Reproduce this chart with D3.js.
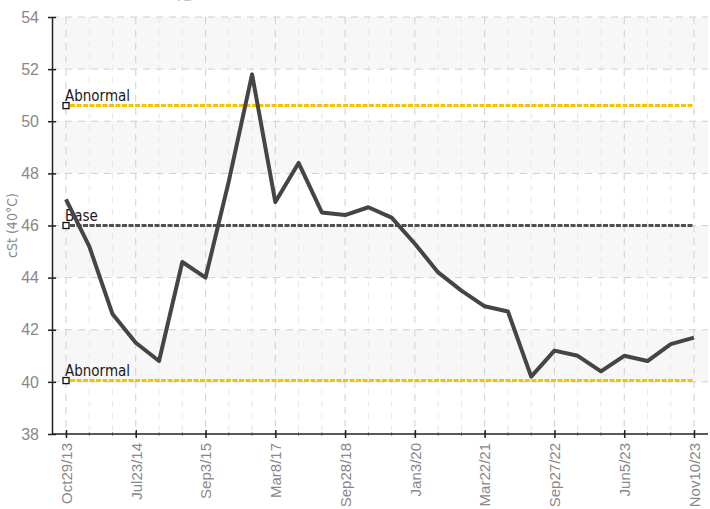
<!DOCTYPE html>
<html>
<head>
<meta charset="utf-8">
<script src="https://cdn.jsdelivr.net/npm/d3@7"></script>
<style>
  body { margin: 0; background: #fff; }
  svg { display: block; font-family: "DejaVu Sans Condensed", "Roboto", sans-serif; }
  .tick-label { fill: #888; font-size: 16px; }
  .x-label { fill: #888; font-size: 15px; }
  .ref-label { fill: #1a1a1a; font-size: 15px; }
</style>
</head>
<body>
<svg id="chart" width="710" height="509" viewBox="0 0 710 509"></svg>
<script>
// one value per sample, equally spaced along x
const viscosity = [47.0, 45.2, 42.6, 41.5, 40.8, 44.6, 44.0, 47.7, 51.8, 46.9,
  48.4, 46.5, 46.4, 46.7, 46.3, 45.3, 44.2, 43.5, 42.9, 42.7,
  40.2, 41.2, 41.0, 40.4, 41.0, 40.8, 41.45, 41.7];
// labelled samples (every third)
const labelIndex = [0, 3, 6, 9, 12, 15, 18, 21, 24, 27];
const labelText = ["Oct29/13", "Jul23/14", "Sep3/15", "Mar8/17", "Sep28/18",
  "Jan3/20", "Mar22/21", "Sep27/22", "Jun5/23", "Nov10/23"];
const yTicks = [38, 40, 42, 44, 46, 48, 50, 52, 54];
const refLines = [
  { name: "Abnormal", value: 50.6, color: "#f5c400" },
  { name: "Base", value: 46.0, color: "#505050" },
  { name: "Abnormal", value: 40.05, color: "#f5c400" }
];

const svg = document.getElementById("chart");
const root = d3.select(svg);
const margin = { top: 17, right: 2, bottom: 75, left: 52 };
const width = 710, height = 509;
const plotLeft = margin.left, plotRight = width - margin.right;
const plotTop = margin.top, plotBottom = height - margin.bottom;

const indices = d3.range(viscosity.length);
const xScale = d3.scalePoint().domain(indices).range([66, 694]);
const yScale = d3.scaleLinear().domain([38, 54]).range([plotBottom, plotTop]);

// title, cut off at the top in the original
root.append("text")
  .attr("x", 62).attr("y", -2)
  .attr("fill", "#c8c8c8")
  .attr("font-size", 14)
  .text("Kinematic Viscosity_40°C trend");

// alternating bands
const bands = [[52, 54], [48, 50], [44, 46], [40, 42]];
root.append("g").selectAll("rect")
  .data(bands)
  .join("rect")
  .attr("x", plotLeft)
  .attr("width", plotRight - plotLeft)
  .attr("y", d => yScale(d[1]))
  .attr("height", d => yScale(d[0]) - yScale(d[1]))
  .attr("fill", "#f7f7f7");

// minor vertical grid
root.append("g").selectAll("line")
  .data(indices.filter(i => !labelIndex.includes(i)))
  .join("line")
  .attr("x1", i => xScale(i)).attr("x2", i => xScale(i))
  .attr("y1", plotTop).attr("y2", plotBottom)
  .attr("stroke", "#e8e8e8")
  .attr("stroke-dasharray", "6,6");

// major vertical grid
root.append("g").selectAll("line")
  .data(labelIndex)
  .join("line")
  .attr("x1", i => xScale(i)).attr("x2", i => xScale(i))
  .attr("y1", plotTop).attr("y2", plotBottom)
  .attr("stroke", "#cfcfcf")
  .attr("stroke-dasharray", "7,6");

// horizontal grid
root.append("g").selectAll("line")
  .data(yTicks.slice(1))
  .join("line")
  .attr("x1", plotLeft).attr("x2", plotRight)
  .attr("y1", d => yScale(d)).attr("y2", d => yScale(d))
  .attr("stroke", "#cfcfcf")
  .attr("stroke-dasharray", "7,6");

// reference lines
const refGroup = root.append("g");
refGroup.selectAll("line")
  .data(refLines)
  .join("line")
  .attr("x1", xScale(0) + 4).attr("x2", xScale(viscosity.length - 1))
  .attr("y1", d => yScale(d.value)).attr("y2", d => yScale(d.value))
  .attr("stroke", d => d.color)
  .attr("stroke-width", 3)
  .attr("stroke-dasharray", "5,1.5");

// data line
const line = d3.line()
  .x((_d, i) => xScale(i))
  .y(d => yScale(d));
root.append("path")
  .attr("d", line(viscosity))
  .attr("fill", "none")
  .attr("stroke", "#454545")
  .attr("stroke-width", 4)
  .attr("stroke-linejoin", "round");

// reference markers and labels
refGroup.selectAll("rect")
  .data(refLines)
  .join("rect")
  .attr("x", xScale(0) - 3)
  .attr("y", d => yScale(d.value) - 3)
  .attr("width", 6).attr("height", 6)
  .attr("fill", "#fff")
  .attr("stroke", "#111")
  .attr("stroke-width", 1.3);
refGroup.selectAll("text")
  .data(refLines)
  .join("text")
  .attr("class", "ref-label")
  .attr("x", xScale(0) - 1)
  .attr("y", d => yScale(d.value) - 5)
  .text(d => d.name);

// y axis
const yAxis = root.append("g")
  .attr("transform", `translate(${plotLeft}, 0)`)
  .call(d3.axisLeft(yScale).tickValues(yTicks).tickSizeOuter(0).tickPadding(7));
yAxis.select(".domain").attr("stroke", "#222").attr("stroke-width", 1.5);
yAxis.selectAll(".tick line").attr("x1", -4).attr("x2", 4).attr("stroke", "#222").attr("stroke-width", 1.5);
yAxis.selectAll(".tick text").attr("class", "tick-label").attr("font-size", null).attr("fill", null);

// x axis minor ticks
root.append("g").selectAll("line")
  .data(indices)
  .join("line")
  .attr("x1", i => xScale(i)).attr("x2", i => xScale(i))
  .attr("y1", plotBottom - 2).attr("y2", plotBottom + 2)
  .attr("stroke", "#999");

// x axis
const xAxis = root.append("g")
  .attr("transform", `translate(0, ${plotBottom})`)
  .call(d3.axisBottom(xScale)
    .tickValues(labelIndex)
    .tickFormat(i => labelText[labelIndex.indexOf(i)])
    .tickSizeOuter(0));
xAxis.select(".domain").attr("d", `M${plotLeft},0H${plotRight}`).attr("stroke", "#222").attr("stroke-width", 1.5);
xAxis.selectAll(".tick line").attr("y1", -4).attr("y2", 4).attr("stroke", "#222").attr("stroke-width", 1.5);
xAxis.selectAll(".tick text")
  .attr("class", "x-label")
  .attr("font-size", null).attr("fill", null)
  .attr("transform", "rotate(-90)")
  .attr("text-anchor", "end")
  .attr("x", -9).attr("y", 0).attr("dy", "0.35em");

// y axis title
root.append("text")
  .attr("transform", `translate(17, ${(plotTop + plotBottom) / 2}) rotate(-90)`)
  .attr("text-anchor", "middle")
  .attr("fill", "#888")
  .attr("font-size", 14)
  .text("cSt (40°C)");
</script>
</body>
</html>
